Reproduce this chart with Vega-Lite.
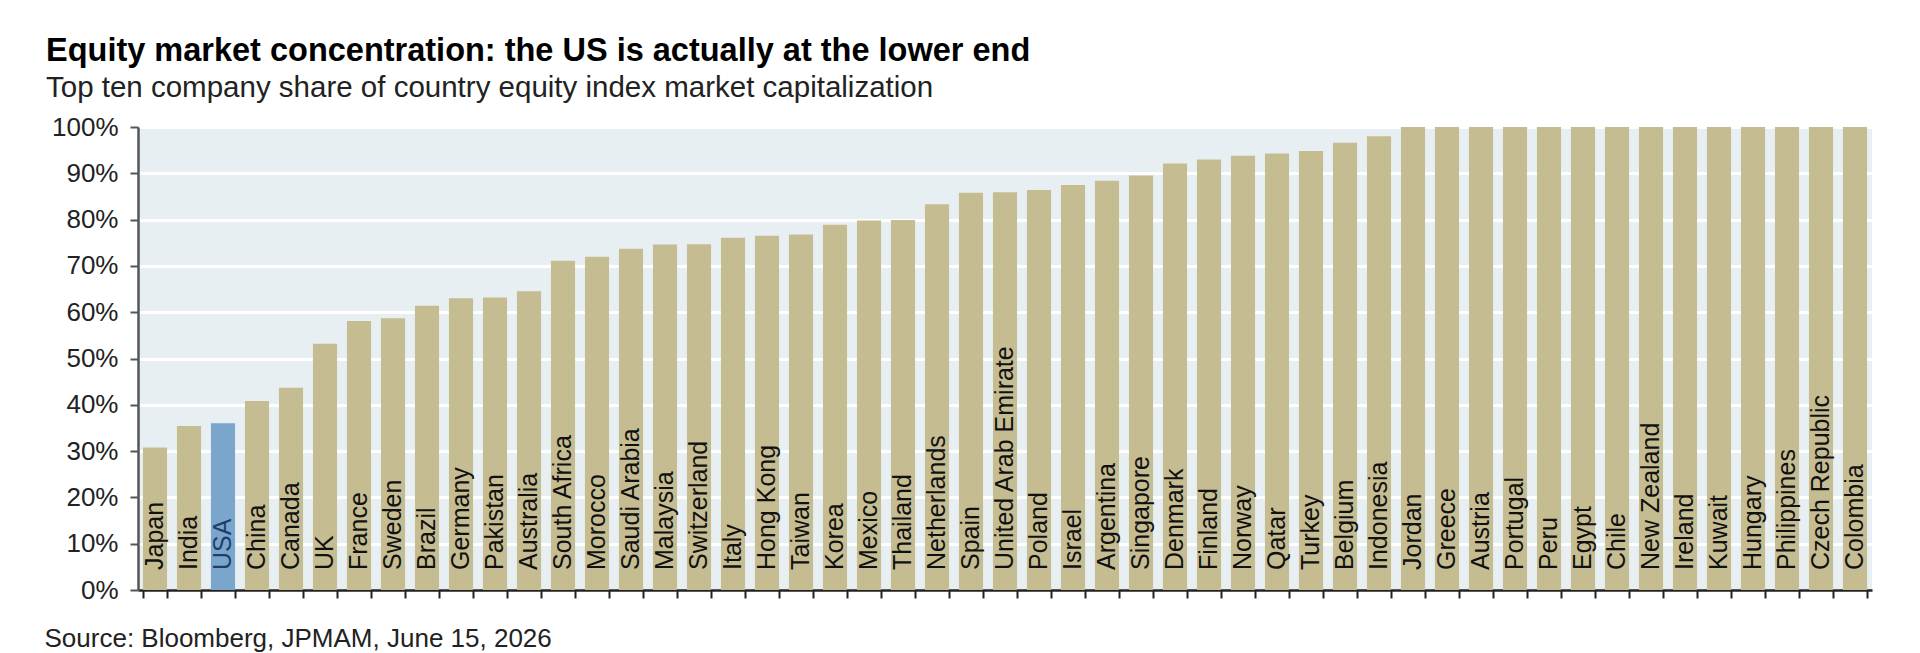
{
  "$schema": "https://vega.github.io/schema/vega-lite/v6.json",
  "width": 1734,
  "height": 463,
  "autosize": {"type": "none"},
  "padding": {"left": 138, "top": 127, "right": 48, "bottom": 63},
  "background": "white",
  "title": {
    "text": "Equity market concentration: the US is actually at the lower end",
    "subtitle": "Top ten company share of country equity index market capitalization",
    "anchor": "start",
    "frame": "group",
    "dx": -92,
    "offset": 12,
    "font": "Liberation Sans",
    "fontSize": 32.5,
    "fontWeight": "bold",
    "color": "#000000",
    "subtitleFont": "Liberation Sans",
    "subtitleFontSize": 29.5,
    "subtitleColor": "#222222",
    "subtitlePadding": 6
  },
  "data": {
    "values": [
      {"Country": "Japan", "Share": 30.8},
      {"Country": "India", "Share": 35.4},
      {"Country": "USA", "Share": 36.0},
      {"Country": "China", "Share": 40.8},
      {"Country": "Canada", "Share": 43.7},
      {"Country": "UK", "Share": 53.2},
      {"Country": "France", "Share": 58.1},
      {"Country": "Sweden", "Share": 58.7},
      {"Country": "Brazil", "Share": 61.4},
      {"Country": "Germany", "Share": 63.0},
      {"Country": "Pakistan", "Share": 63.2},
      {"Country": "Australia", "Share": 64.5},
      {"Country": "South Africa", "Share": 71.1},
      {"Country": "Morocco", "Share": 72.0},
      {"Country": "Saudi Arabia", "Share": 73.7},
      {"Country": "Malaysia", "Share": 74.6},
      {"Country": "Switzerland", "Share": 74.7},
      {"Country": "Italy", "Share": 76.1},
      {"Country": "Hong Kong", "Share": 76.5},
      {"Country": "Taiwan", "Share": 76.8},
      {"Country": "Korea", "Share": 78.9},
      {"Country": "Mexico", "Share": 79.8},
      {"Country": "Thailand", "Share": 79.9},
      {"Country": "Netherlands", "Share": 83.3},
      {"Country": "Spain", "Share": 85.8},
      {"Country": "United Arab Emirate", "Share": 85.9},
      {"Country": "Poland", "Share": 86.4},
      {"Country": "Israel", "Share": 87.5},
      {"Country": "Argentina", "Share": 88.4},
      {"Country": "Singapore", "Share": 89.5},
      {"Country": "Denmark", "Share": 92.1},
      {"Country": "Finland", "Share": 93.0},
      {"Country": "Norway", "Share": 93.8},
      {"Country": "Qatar", "Share": 94.3},
      {"Country": "Turkey", "Share": 94.8},
      {"Country": "Belgium", "Share": 96.6},
      {"Country": "Indonesia", "Share": 98.0},
      {"Country": "Jordan", "Share": 100},
      {"Country": "Greece", "Share": 100},
      {"Country": "Austria", "Share": 100},
      {"Country": "Portugal", "Share": 100},
      {"Country": "Peru", "Share": 100},
      {"Country": "Egypt", "Share": 100},
      {"Country": "Chile", "Share": 100},
      {"Country": "New Zealand", "Share": 100},
      {"Country": "Ireland", "Share": 100},
      {"Country": "Kuwait", "Share": 100},
      {"Country": "Hungary", "Share": 100},
      {"Country": "Philippines", "Share": 100},
      {"Country": "Czech Republic", "Share": 100},
      {"Country": "Colombia", "Share": 100}
    ]
  },
  "encoding": {
    "x": {
      "field": "Country",
      "type": "nominal",
      "sort": null,
      "scale": {"paddingInner": 0.29, "paddingOuter": 0.145},
      "axis": {
        "labels": false,
        "tickBand": "extent",
        "tickSize": 8,
        "tickColor": "#222222",
        "tickWidth": 2,
        "domainColor": "#222222",
        "domainWidth": 2.5,
        "grid": false,
        "title": "Source: Bloomberg, JPMAM, June 15, 2026",
        "titleAnchor": "start",
        "titleAlign": "left",
        "titleBaseline": "alphabetic",
        "titleX": -94,
        "titleY": 56,
        "titleFont": "Liberation Sans",
        "titleFontSize": 26,
        "titleFontWeight": "normal",
        "titleColor": "#222222"
      }
    }
  },
  "layer": [
    {
      "mark": {"type": "bar"},
      "encoding": {
        "y": {
          "field": "Share",
          "type": "quantitative",
          "scale": {"domain": [0, 100], "nice": false},
          "axis": {
            "title": null,
            "values": [0, 10, 20, 30, 40, 50, 60, 70, 80, 90, 100],
            "labelExpr": "datum.value + '%'",
            "labelFont": "Liberation Sans",
            "labelFontSize": 26,
            "labelColor": "#222222",
            "labelPadding": 12,
            "tickSize": 8,
            "tickWidth": 2,
            "tickColor": "#555555",
            "domainColor": "#555555",
            "domainWidth": 2.5,
            "grid": true,
            "gridColor": "#ffffff",
            "gridWidth": 3
          }
        },
        "color": {
          "condition": {"test": "datum.Country === 'USA'", "value": "#7ba6cc"},
          "value": "#c5bd91"
        }
      }
    },
    {
      "mark": {
        "type": "text",
        "angle": 270,
        "align": "left",
        "baseline": "middle",
        "dx": 20,
        "font": "Liberation Sans",
        "fontSize": 25
      },
      "encoding": {
        "y": {"datum": 0},
        "text": {"field": "Country"},
        "color": {
          "condition": {"test": "datum.Country === 'USA'", "value": "#1f3d6e"},
          "value": "#111111"
        }
      }
    }
  ],
  "config": {
    "view": {"fill": "#e8eff2", "stroke": null}
  }
}
